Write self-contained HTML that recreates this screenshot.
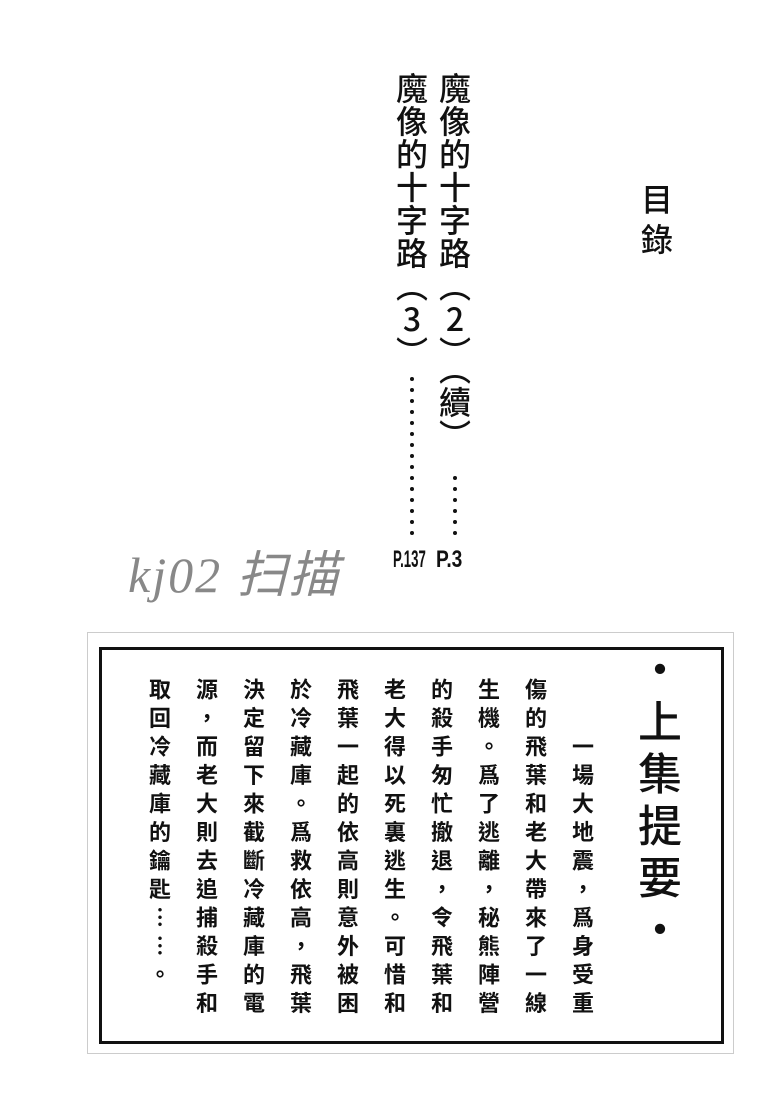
<!DOCTYPE html>
<html><head><meta charset="utf-8"><style>
html,body{margin:0;padding:0;background:#fff;}
body{width:780px;height:1103px;position:relative;overflow:hidden;font-family:"Liberation Sans","Noto Sans CJK TC",sans-serif;color:#111;}
.v{position:absolute;writing-mode:vertical-rl;text-orientation:upright;font-family:"Noto Sans CJK TC","Noto Sans CJK SC",sans-serif;white-space:nowrap;}
.t{font-size:32px;line-height:34px;letter-spacing:1px;font-weight:500;}
.c{font-size:22px;line-height:24px;letter-spacing:6.5px;font-weight:700;}
.dot{position:absolute;width:4px;height:4px;border-radius:50%;background:#111;}
.p{position:absolute;font-weight:700;font-size:24px;transform:scaleX(0.7);transform-origin:left top;font-family:"Liberation Sans",sans-serif;}
</style></head><body>
<div class="v t" style="left:395px;top:72px;">魔像的十字路（3）</div>
<div class="v t" style="left:438px;top:72px;">魔像的十字路（2）（續）</div>
<div class="v" style="left:640px;top:183px;font-size:32px;line-height:34px;letter-spacing:8px;font-weight:500;">目錄</div>
<div id="d"></div>
<div class="p" style="left:393px;top:546px;transform:scaleX(0.55);">P.137</div>
<div class="p" style="left:436px;top:546px;transform:scaleX(0.8);">P.3</div>
<div style="position:absolute;left:128px;top:535px;font-family:'Liberation Serif','Noto Sans CJK SC',serif;font-style:italic;font-size:50px;color:#888;letter-spacing:2px;">kj02 扫描</div>
<div style="position:absolute;left:87px;top:632px;width:645px;height:420px;border:1px solid #ccc;"></div>
<div style="position:absolute;left:99px;top:647px;width:619px;height:391px;border:3px solid #111;"></div>
<div class="v" style="left:637px;top:647px;font-size:44px;line-height:46px;letter-spacing:8px;font-weight:500;">・上集提要・</div>
<div class="v c" style="left:571px;top:678px;">　　一場大地震，爲身受重</div>
<div class="v c" style="left:524px;top:678px;">傷的飛葉和老大帶來了一線</div>
<div class="v c" style="left:477px;top:678px;">生機。爲了逃離，秘熊陣營</div>
<div class="v c" style="left:430px;top:678px;">的殺手匆忙撤退，令飛葉和</div>
<div class="v c" style="left:383px;top:678px;">老大得以死裏逃生。可惜和</div>
<div class="v c" style="left:336px;top:678px;">飛葉一起的依高則意外被困</div>
<div class="v c" style="left:289px;top:678px;">於冷藏庫。爲救依高，飛葉</div>
<div class="v c" style="left:242px;top:678px;">決定留下來截斷冷藏庫的電</div>
<div class="v c" style="left:195px;top:678px;">源，而老大則去追捕殺手和</div>
<div class="v c" style="left:148px;top:678px;">取回冷藏庫的鑰匙……。</div>
<script>
var d=document.getElementById('d'),h='';
for(var i=0;i<15;i++)h+='<div class="dot" style="left:410px;top:'+(377+i*11)+'px"></div>';
for(var i=0;i<6;i++)h+='<div class="dot" style="left:453px;top:'+(476+i*11)+'px"></div>';
d.innerHTML=h;
</script>
</body></html>
